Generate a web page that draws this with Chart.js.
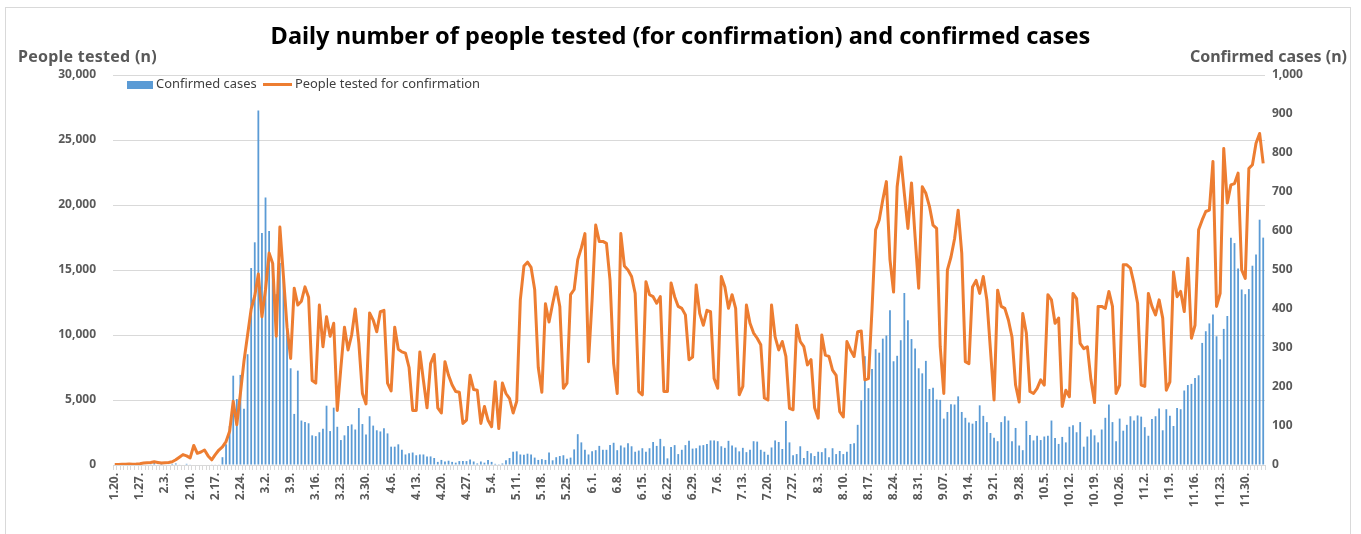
<!DOCTYPE html>
<html>
<head>
<meta charset="utf-8">
<script src="https://cdn.jsdelivr.net/npm/chart.js@4.4.0/dist/chart.umd.min.js"></script>
<style>
  html, body { margin: 0; padding: 0; background: #fff; }
  #wrap { position: relative; width: 1361px; height: 534px; overflow: hidden; font-family: 'Noto Sans', sans-serif; }
  #frame { position: absolute; left: 5px; top: 7px; width: 1346px; height: 540px; border: 1px solid #d9d9d9; box-sizing: border-box; }
  #chart { position: absolute; left: 0; top: 0; }
  .txt { position: absolute; white-space: nowrap; line-height: 1; }
  #title { left: 0; width: 1361px; top: 24px; text-align: center; font-weight: 700; font-size: 23.6px; color: #000; }
  .axt { top: 48px; font-weight: 700; font-size: 16px; color: #595959; }
  #ytl { left: 18px; letter-spacing: 0.25px; }
  #ytr { right: 14px; }
  .lg { top: 77px; font-size: 12.9px; color: #404040; }
  .sw { position: absolute; }
</style>
</head>
<body>
<div id="wrap">
  <div id="frame"></div>
  <canvas id="chart" width="1361" height="534"></canvas>
  <div class="txt" id="title">Daily number of people tested (for confirmation) and confirmed cases</div>
  <div class="txt axt" id="ytl">People tested (n)</div>
  <div class="txt axt" id="ytr">Confirmed cases (n)</div>
  <div class="sw" style="left:127px; top:81px; width:26px; height:8px; background:#5b9bd5;"></div>
  <div class="txt lg" style="left:156px;">Confirmed cases</div>
  <div class="sw" style="left:263px; top:83px; width:29px; height:3px; background:#ed7d31;"></div>
  <div class="txt lg" style="left:295px;">People tested for confirmation</div>
</div>
<script>
/* ── Data: daily values from 2020-01-20 to 2020-12-05 ─────────────────────── */
const START_DATE = new Date(2020, 0, 20);

const CASES_JAN = [1, 0, 0, 0, 1, 0, 1, 1, 0, 0, 2, 5];
const CASES_FEB = [1, 3, 0, 1, 3, 4, 1, 0, 3, 1, 0, 0, 0, 0, 0, 1, 1, 1, 20, 53, 100, 229, 169, 231, 144, 284, 505, 571, 909];
const CASES_MAR = [595, 686, 600, 516, 438, 518, 483, 367, 248, 131, 242, 114, 110, 107, 76, 74, 84, 93, 152, 87, 147, 98, 64, 76, 100, 104, 91, 146, 105, 78, 125];
const CASES_APR = [101, 89, 86, 94, 81, 47, 47, 53, 39, 27, 30, 32, 25, 27, 27, 22, 22, 18, 8, 13, 9, 11, 8, 6, 10, 10, 10, 14, 9, 4];
const CASES_MAY = [9, 6, 13, 8, 3, 2, 4, 12, 18, 34, 35, 27, 26, 29, 27, 19, 13, 15, 13, 32, 12, 20, 23, 25, 16, 19, 40, 79, 58, 39, 27];
const CASES_JUN = [35, 38, 49, 39, 39, 51, 57, 38, 50, 45, 56, 48, 34, 37, 43, 34, 43, 59, 49, 67, 48, 17, 46, 51, 28, 39, 51, 62, 42, 43];
const CASES_JUL = [50, 51, 54, 63, 63, 61, 48, 44, 62, 50, 45, 35, 44, 33, 39, 61, 60, 39, 34, 26, 45, 63, 59, 41, 113, 58, 25, 28, 48, 18, 36];
const CASES_AUG = [30, 23, 34, 33, 43, 20, 43, 28, 36, 28, 34, 54, 56, 103, 166, 279, 197, 246, 297, 288, 324, 332, 397, 266, 280, 320, 441, 371, 323, 299, 248];
const CASES_SEP = [235, 267, 195, 198, 168, 167, 119, 136, 156, 155, 176, 136, 121, 109, 106, 113, 153, 126, 110, 82, 70, 61, 110, 125, 114, 61, 95, 50, 38, 113];
const CASES_OCT = [77, 63, 75, 64, 73, 75, 114, 69, 54, 72, 58, 98, 102, 84, 110, 47, 73, 91, 76, 58, 91, 121, 155, 110, 61, 119, 88, 103, 125, 114, 127];
const CASES_NOV = [124, 97, 75, 118, 125, 145, 89, 143, 126, 100, 146, 143, 191, 205, 208, 223, 230, 313, 343, 363, 386, 330, 271, 349, 382, 583, 569, 504, 450, 438];
const CASES_DEC = [451, 511, 540, 629, 583];

const TESTED_JAN = [30, 40, 50, 60, 80, 60, 70, 100, 150, 180, 200, 250];
const TESTED_FEB = [200, 150, 180, 200, 250, 400, 600, 800, 700, 550, 1500, 900, 1000, 1150, 700, 400, 800, 1150, 1400, 1800, 2600, 4900, 3100, 5500, 8000, 10000, 12000, 13000, 14700];
const TESTED_MAR = [11400, 13500, 16300, 15500, 9900, 18300, 14500, 10600, 8200, 13600, 12300, 12600, 13700, 12900, 6500, 6300, 12300, 9100, 11400, 9900, 10900, 4200, 7500, 10600, 8850, 10000, 12000, 9400, 5500, 4700, 11700];
const TESTED_APR = [11150, 10250, 11800, 11900, 6300, 5700, 10600, 8900, 8700, 8600, 7500, 4200, 4200, 8700, 6500, 4400, 7800, 8500, 4400, 4000, 7950, 6900, 6150, 5650, 5600, 3200, 3450, 6900, 5800, 5750];
const TESTED_MAY = [3200, 4500, 3450, 2950, 6400, 2800, 6300, 5500, 5100, 4000, 4900, 12700, 15300, 15600, 15200, 13500, 7500, 5600, 12400, 11000, 12400, 13700, 12200, 5900, 6300, 13100, 13500, 15800, 16700, 17800, 7950];
const TESTED_JUN = [12700, 18460, 17200, 17200, 17050, 14200, 7800, 5500, 17800, 15300, 15000, 14500, 13200, 5650, 5400, 14100, 13100, 12950, 12450, 12950, 5650, 5650, 14000, 12950, 12200, 12050, 11550, 8100, 8300, 13850];
const TESTED_JUL = [11650, 10750, 11900, 11800, 6650, 5900, 14500, 13700, 12050, 13100, 12050, 5400, 6050, 12300, 10900, 10150, 9750, 9250, 5150, 5000, 12300, 9850, 8850, 9500, 8350, 4350, 4250, 10750, 9500, 9100, 7700];
const TESTED_AUG = [8100, 4400, 3600, 10000, 8450, 8350, 7300, 6900, 4100, 3700, 9500, 8850, 8350, 10250, 10300, 6550, 6650, 12000, 18100, 18850, 20400, 21800, 15800, 13300, 21400, 23700, 20900, 18200, 21700, 17550, 13600];
const TESTED_SEP = [21400, 20900, 19900, 18450, 18200, 9100, 5500, 15000, 16000, 17400, 19600, 16300, 7950, 7800, 13700, 14200, 13200, 14500, 12700, 8850, 5000, 13450, 12200, 12050, 11150, 9850, 6150, 4850, 11650, 10150];
const TESTED_OCT = [5650, 5500, 5900, 6550, 6150, 13100, 12700, 10900, 11300, 4500, 5750, 5250, 13200, 12800, 9350, 8950, 9100, 6550, 4800, 12200, 12200, 12050, 13350, 12200, 5500, 6150, 15400, 15400, 15150, 13950, 12450];
const TESTED_NOV = [6150, 6050, 13200, 12200, 11550, 12700, 11300, 5750, 6400, 14850, 12950, 13350, 11800, 15900, 9750, 10750, 18100, 18850, 19500, 19600, 23350, 12200, 13200, 24350, 20150, 21550, 21650, 22450, 15000, 14350];
const TESTED_DEC = [22800, 23100, 24750, 25500, 23200];

const TICK_LABELS = ['1.20.', '1.27.', '2.3.', '2.10.', '2.17.', '2.24.', '3.2.', '3.9.', '3.16.', '3.23.', '3.30.',
  '4.6.', '4.13.', '4.20.', '4.27.', '5.4.', '5.11.', '5.18.', '5.25.', '6.1.', '6.8.', '6.15.', '6.22.', '6.29.',
  '7.6.', '7.13.', '7.20.', '7.27.', '8.3.', '8.10.', '8.17.', '8.24.', '8.31.', '9.07.', '9.14.', '9.21.', '9.28.',
  '10.5.', '10.12.', '10.19.', '10.26.', '11.2.', '11.9.', '11.16.', '11.23.', '11.30.'];

const cases = [].concat(CASES_JAN, CASES_FEB, CASES_MAR, CASES_APR, CASES_MAY, CASES_JUN,
  CASES_JUL, CASES_AUG, CASES_SEP, CASES_OCT, CASES_NOV, CASES_DEC);
const tested = [].concat(TESTED_JAN, TESTED_FEB, TESTED_MAR, TESTED_APR, TESTED_MAY, TESTED_JUN,
  TESTED_JUL, TESTED_AUG, TESTED_SEP, TESTED_OCT, TESTED_NOV, TESTED_DEC);

const labels = cases.map((_, i) => {
  const d = new Date(START_DATE.getTime() + i * 86400000);
  return (d.getMonth() + 1) + '.' + d.getDate() + '.';
});

/* ── Styling ──────────────────────────────────────────────────────────────── */
const COLORS = {
  bar   : '#5b9bd5',
  line  : '#ed7d31',
  grid  : '#d9d9d9',
  tick  : '#595959',
};
const TICK_FONT = { family: "'Noto Sans', sans-serif", size: 12, weight: 'bold' };

new Chart(document.getElementById('chart'), {
  type: 'bar',
  data: {
    labels,
    datasets: [
      {
        type: 'line',
        label: 'People tested for confirmation',
        data: tested,
        yAxisID: 'y',
        borderColor: COLORS.line,
        borderWidth: 3,
        pointRadius: 0,
        tension: 0,
        borderJoinStyle: 'round',
      },
      {
        type: 'bar',
        label: 'Confirmed cases',
        data: cases,
        yAxisID: 'y1',
        backgroundColor: COLORS.bar,
        barPercentage: 0.5,
        categoryPercentage: 1,
      },
    ],
  },
  options: {
    responsive: false,
    animation: false,
    layout: { padding: { top: 75, left: 0, right: 0, bottom: 0 } },
    plugins: { legend: { display: false }, tooltip: { enabled: false } },
    scales: {
      x: {
        ticks: {
          autoSkip: false,
          maxRotation: 90,
          minRotation: 90,
          padding: 3,
          color: COLORS.tick,
          font: TICK_FONT,
          callback: (v, i) => (i % 7 === 0 ? TICK_LABELS[i / 7] : ''),
        },
        grid: { drawOnChartArea: false, color: COLORS.grid, tickLength: 5 },
        border: { color: COLORS.grid },
        afterFit: s => { s.height = 69; },
      },
      y: {
        position: 'left',
        min: 0,
        max: 30000,
        ticks: {
          stepSize: 5000,
          padding: 17,
          color: COLORS.tick,
          font: TICK_FONT,
          callback: v => v.toLocaleString('en-US'),
        },
        grid: { color: COLORS.grid, drawTicks: false },
        border: { display: false },
        afterFit: s => { s.width = 113; },
      },
      y1: {
        position: 'right',
        min: 0,
        max: 1000,
        ticks: {
          stepSize: 100,
          padding: 7,
          color: COLORS.tick,
          font: TICK_FONT,
          callback: v => v.toLocaleString('en-US'),
        },
        grid: { drawOnChartArea: false, drawTicks: false },
        border: { display: false },
        afterFit: s => { s.width = 96; },
      },
    },
  },
});
</script>
</body>
</html>
